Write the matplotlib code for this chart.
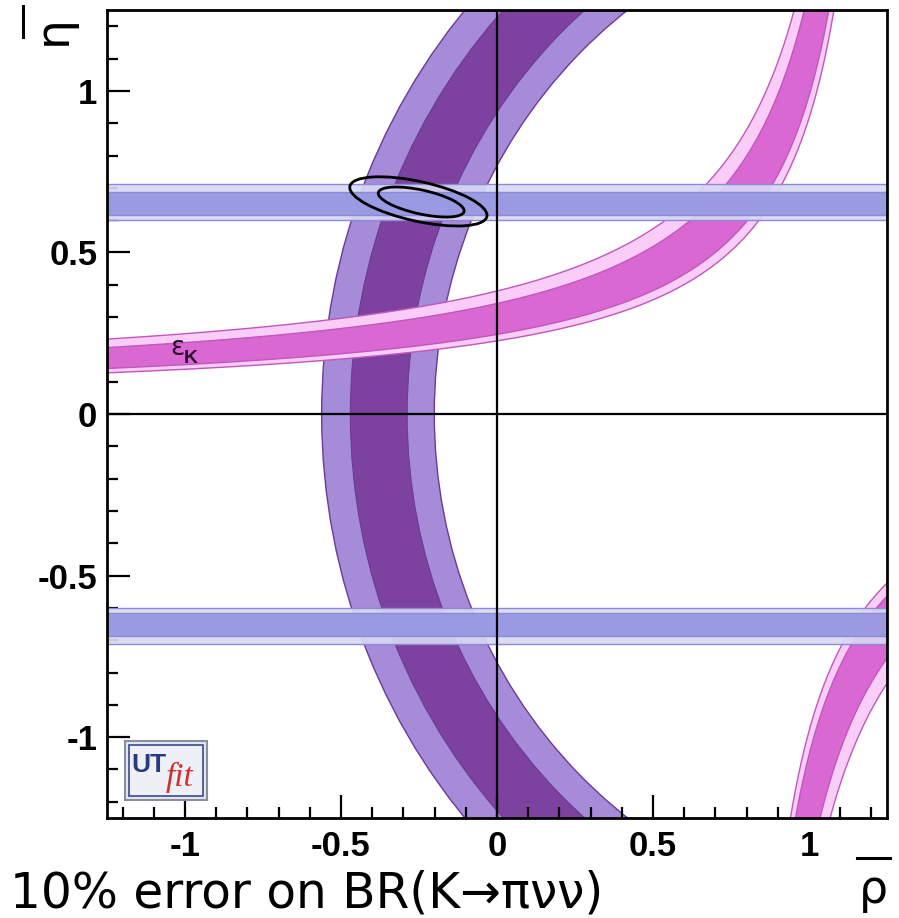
import numpy as np
import matplotlib
matplotlib.use('Agg')
import matplotlib.pyplot as plt
from matplotlib.patches import Wedge, Ellipse, Rectangle
from matplotlib.ticker import MultipleLocator, FixedLocator
from matplotlib.lines import Line2D

# plot range
rho_lim = [-1.25, 1.25]
eta_lim = [-1.25, 1.25]

# ring constraint (circle centred on the rho axis), radii
ring_center = [1.37, 0.0]
ring_light = [1.571, 1.932]   # inner / outer radius of light band
ring_dark = [1.658, 1.840]    # inner / outer radius of dark band

# epsilon_K band edges, eta = k / (a - rho) + b
epsk_upper = [0.387, 1.283, 0.079]
epsk_lower = [0.260, 1.292, 0.025]
epsk_dark = [0.13, 0.75]      # dark part, as fraction from lower to upper edge
epsk_mirror = 1.01            # second branch: point reflection through (mirror, 0)

# BR(K -> pi nu nu) bands in eta (upper one, lower one is mirrored)
kl_light = [0.600, 0.712]
kl_dark = [0.615, 0.688]

# fit contours
ell_rho = [-0.252, -0.243]
ell_eta = [0.658, 0.656]
ell_w = [0.449, 0.281]
ell_h = [0.123, 0.074]
ell_ang = [-12, -12]

major_ticks = [-1, -0.5, 0, 0.5, 1]
tick_labels = ['-1', '-0.5', '0', '0.5', '1']

# colours
c_ring_l, c_ring_d, c_ring_e = '#a68bd9', '#7d41a0', '#6a3a96'
c_eps_l, c_eps_d, c_eps_e = '#facdf8', '#da68d2', '#c057ba'
c_kl_l, c_kl_d, c_kl_e = '#d8d8f2', '#9696e2', '#8a8ad6'

fig = plt.figure(figsize=(8.99, 9.18), dpi=100)
ax = fig.add_axes([0.119, 0.109, 0.8677, 0.880])
ax.set_xlim(rho_lim)
ax.set_ylim(eta_lim)

# ring
ax.add_patch(Wedge(ring_center, ring_light[1], 0, 360, width=ring_light[1] - ring_light[0],
                   facecolor=c_ring_l, edgecolor=c_ring_e, lw=1, zorder=1))
ax.add_patch(Wedge(ring_center, ring_dark[1], 0, 360, width=ring_dark[1] - ring_dark[0],
                   facecolor=c_ring_d, edgecolor=c_ring_e, lw=0.8, zorder=1.1))


def eps_edge(r, p):
    return p[0] / (p[1] - r) + p[2]


# eps_K, first branch
rho = np.linspace(rho_lim[0], rho_lim[1], 4000)
up = eps_edge(rho, epsk_upper)
lo = eps_edge(rho, epsk_lower)
d_lo = lo + epsk_dark[0] * (up - lo)
d_up = lo + epsk_dark[1] * (up - lo)
ax.fill_between(rho, lo, up, color=c_eps_l, lw=0, zorder=2)
ax.fill_between(rho, d_lo, d_up, color=c_eps_d, lw=0, zorder=2.1)
for y in [lo, up, d_lo, d_up]:
    ax.plot(rho, y, color=c_eps_e, lw=1, zorder=2.2)

# eps_K, second branch (bottom right)
rho2 = np.linspace(0.76, rho_lim[1], 3000)
rr = 2 * epsk_mirror - rho2
up2 = -eps_edge(rr, epsk_upper)
lo2 = -eps_edge(rr, epsk_lower)
d_lo2 = lo2 + epsk_dark[0] * (up2 - lo2)
d_up2 = lo2 + epsk_dark[1] * (up2 - lo2)
ax.fill_between(rho2, up2, lo2, color=c_eps_l, lw=0, zorder=2)
ax.fill_between(rho2, d_lo2, d_up2, color=c_eps_d, lw=0, zorder=2.1)
for y in [lo2, up2, d_lo2, d_up2]:
    ax.plot(rho2, y, color=c_eps_e, lw=1, zorder=2.2)

# K -> pi nu nu bands
for s in [1, -1]:
    ax.axhspan(s * kl_light[0], s * kl_light[1], color=c_kl_l, alpha=0.92, lw=0, zorder=3)
    ax.axhspan(s * kl_dark[0], s * kl_dark[1], color=c_kl_d, alpha=0.92, lw=0, zorder=3.1)
    for v in kl_light + kl_dark:
        ax.axhline(s * v, color=c_kl_e, lw=1, zorder=3.2)

# axes through origin
ax.axhline(0, color='black', lw=1.6, zorder=4)
ax.axvline(0, color='black', lw=1.6, zorder=4)

# contours
for i in range(len(ell_rho)):
    ax.add_patch(Ellipse((ell_rho[i], ell_eta[i]), ell_w[i], ell_h[i], angle=ell_ang[i],
                         fill=False, edgecolor='black', lw=2, zorder=5))

# eps_K label
ax.text(-1.025, 0.205, 'ε', fontsize=19, ha='center', va='center', family='DejaVu Sans',
        color='#2a1030', zorder=6)
ax.text(-0.982, 0.172, 'K', fontsize=14, fontweight='bold', ha='center', va='center',
        family='Liberation Sans', color='#2a1030', zorder=6)

# UTfit logo
ax.add_patch(Rectangle((0.023, 0.022), 0.105, 0.073, transform=ax.transAxes,
                       facecolor='#e4e7f0', edgecolor='#8a8f9c', lw=1.5, zorder=6))
ax.add_patch(Rectangle((0.028, 0.027), 0.095, 0.063, transform=ax.transAxes,
                       facecolor='#eef0f6', edgecolor='#3a4a8a', lw=1.2, zorder=6.1))
ax.text(0.031, 0.066, 'UT', transform=ax.transAxes, fontsize=19, fontweight='bold',
        family='Liberation Sans', color='#2a3a80', ha='left', va='center', zorder=7)
ax.text(0.075, 0.050, 'fit', transform=ax.transAxes, fontsize=24, style='italic',
        family='Liberation Serif', color='#d03030', ha='left', va='center', zorder=7)

# ticks
ax.xaxis.set_major_locator(FixedLocator(major_ticks))
ax.yaxis.set_major_locator(FixedLocator(major_ticks))
ax.set_xticklabels(tick_labels)
ax.set_yticklabels(tick_labels)
ax.xaxis.set_minor_locator(MultipleLocator(0.1))
ax.yaxis.set_minor_locator(MultipleLocator(0.1))
ax.tick_params(which='major', direction='in', length=16.5, width=1.6, top=False, right=False)
ax.tick_params(which='minor', direction='in', length=8, width=1.6, top=False, right=False)
ax.tick_params(axis='x', which='major', pad=9)
ax.tick_params(axis='y', which='major', pad=7)
for lab in ax.get_xticklabels() + ax.get_yticklabels():
    lab.set_fontfamily('Liberation Sans')
    lab.set_fontweight('bold')
    lab.set_fontsize(25)
for sp in ax.spines.values():
    sp.set_linewidth(2)
    sp.set_zorder(8)

# axis titles with bars
fig.text(0.9715, 0.005, 'ρ', fontsize=33, ha='center', va='bottom', family='DejaVu Sans')
fig.add_artist(Line2D([0.953, 0.990], [0.065, 0.065], color='black', lw=2.2,
                      transform=fig.transFigure))
fig.text(0.034, 0.983, 'η', fontsize=34, rotation=90, ha='left', va='top', family='DejaVu Sans')
fig.add_artist(Line2D([0.026, 0.026], [0.960, 0.993], color='black', lw=2.2,
                      transform=fig.transFigure))

fig.text(0.011, 0.011, '10% error on BR(K→πνν)', fontsize=35, ha='left', va='baseline',
         family='DejaVu Sans')

fig.savefig('out.png', dpi=100)
